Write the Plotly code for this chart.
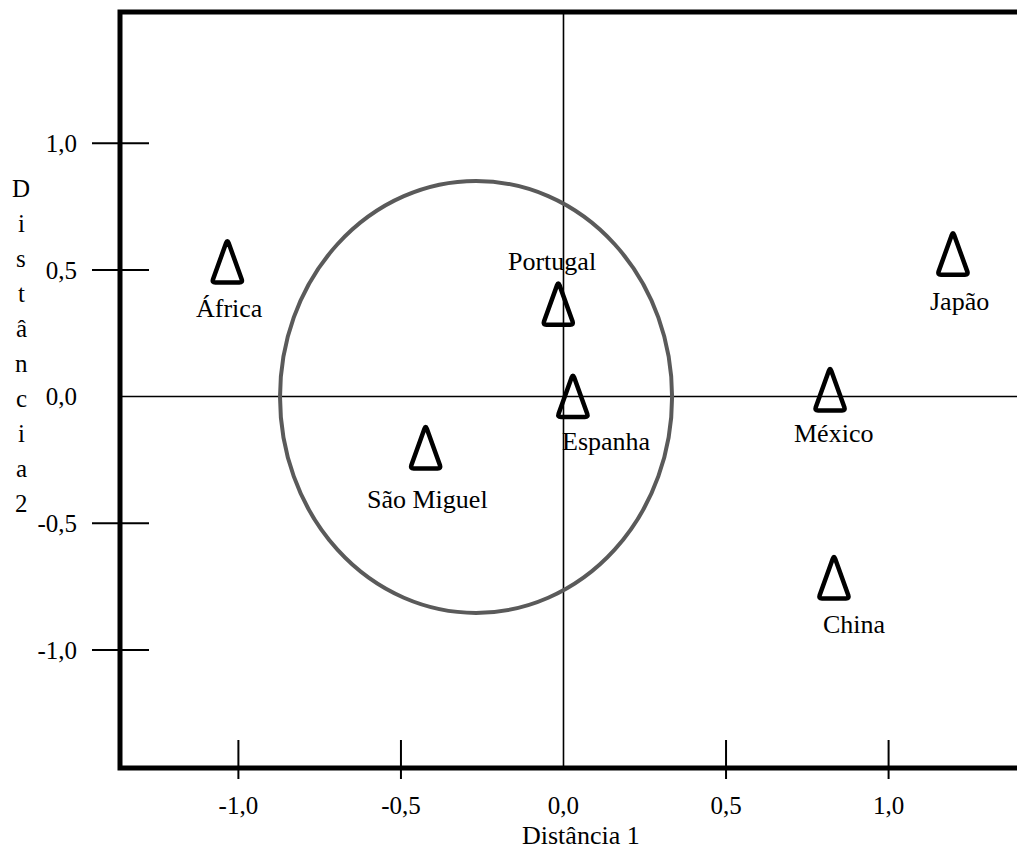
import plotly.graph_objects as go

# Perceptual map: positions of each origin on the two scaling dimensions
places = ["África", "Portugal", "Espanha", "São Miguel", "México", "Japão", "China"]
dist1 = [-1.034, -0.016, 0.029, -0.424, 0.820, 1.198, 0.832]
dist2 = [0.535, 0.368, 0.004, -0.199, 0.030, 0.566, -0.712]

tick_vals = [-1.0, -0.5, 0.0, 0.5, 1.0]
tick_text = ["-1,0", "-0,5", "0,0", "0,5", "1,0"]

# Ellipse drawn around the Iberian group (bounds on both dimensions)
group_d1 = [-0.872, 0.334]
group_d2 = [-0.854, 0.851]

x_title = "Distância 1"
y_title = "Distância 2"

# ---- layout / style constants ----
W, H = 1017, 849
ML, MR, MT, MB = 120, 0, 12, 81
PW, PH = W - ML - MR, H - MT - MB
X_RANGE = [-1.3642, 1.3950]
Y_RANGE = [-1.4662, 1.5180]
FONT = "Liberation Serif, Times New Roman, serif"

# label placement around each triangle, in pixels (dx right, dy up)
label_shift = {
    "África": (2, -47),
    "Portugal": (-6, 42),
    "Espanha": (34, -46),
    "São Miguel": (2, -53),
    "México": (3, -45),
    "Japão": (7, -48),
    "China": (21, -48),
}


def px_to_paper_x(px):
    return (px - ML) / PW


def px_to_paper_y(py):
    return (MT + PH - py) / PH


def rounded_triangle(hw, hh, r):
    """Tall open triangle with softened corners, as a pixel-offset path."""
    pts = [(0.0, hh), (hw, -hh), (-hw, -hh)]
    n = len(pts)
    segs = []
    for i in range(n):
        vx, vy = pts[i]
        px_, py_ = pts[i - 1]
        nx, ny = pts[(i + 1) % n]

        def toward(ax, ay):
            dx, dy = ax - vx, ay - vy
            d = (dx * dx + dy * dy) ** 0.5
            return vx + r * dx / d, vy + r * dy / d

        segs.append((toward(px_, py_), (vx, vy), toward(nx, ny)))
    path = "M {:.2f},{:.2f} ".format(*segs[0][0])
    for k, (a, v, b) in enumerate(segs):
        if k > 0:
            path += "L {:.2f},{:.2f} ".format(*a)
        path += "Q {:.2f},{:.2f} {:.2f},{:.2f} ".format(v[0], v[1], b[0], b[1])
    path += "Z"
    return path


TRI_PATH = rounded_triangle(15.5, 21.5, 3.5)

fig = go.Figure()

# invisible anchor trace carrying the points (hover only)
fig.add_trace(go.Scatter(
    x=dist1, y=dist2, mode="markers", text=places,
    marker=dict(size=30, opacity=0), hoverinfo="text", showlegend=False,
))

shapes = []

# frame: left, top and bottom edges
shapes.append(dict(type="path", xref="paper", yref="paper",
                   path="M 1.02,1 L 0,1 L 0,0 L 1.02,0",
                   line=dict(color="black", width=5), layer="above"))

# reference cross through the origin
shapes.append(dict(type="line", xref="x", yref="paper", x0=0, x1=0, y0=0, y1=1,
                   line=dict(color="black", width=1.6)))
shapes.append(dict(type="line", xref="paper", yref="y", x0=0, x1=1, y0=0, y1=0,
                   line=dict(color="black", width=1.6)))

# tick marks crossing the frame (origin is marked by the cross itself)
for v in tick_vals:
    if v == 0:
        continue
    shapes.append(dict(type="line", xref="x", x0=v, x1=v,
                       yref="paper", ysizemode="pixel", yanchor=0, y0=-11, y1=28,
                       line=dict(color="black", width=2)))
    shapes.append(dict(type="line", yref="y", y0=v, y1=v,
                       xref="paper", xsizemode="pixel", xanchor=0, x0=-28, x1=29,
                       line=dict(color="black", width=2)))

# group ellipse
shapes.append(dict(type="circle", xref="x", yref="y",
                   x0=group_d1[0], x1=group_d1[1], y0=group_d2[0], y1=group_d2[1],
                   line=dict(color="#5a5a5a", width=4)))

# triangle markers
for x, y in zip(dist1, dist2):
    shapes.append(dict(type="path", xref="x", yref="y",
                       xsizemode="pixel", ysizemode="pixel", xanchor=x, yanchor=y,
                       path=TRI_PATH, fillcolor="rgba(0,0,0,0)",
                       line=dict(color="black", width=4.5), layer="above"))

annotations = []
for name, x, y in zip(places, dist1, dist2):
    dx, dy = label_shift[name]
    annotations.append(dict(x=x, y=y, xref="x", yref="y", text=name, showarrow=False,
                            xshift=dx, yshift=dy, xanchor="center", yanchor="middle",
                            font=dict(family=FONT, size=26, color="black")))

# horizontal axis title
annotations.append(dict(x=px_to_paper_x(581), y=px_to_paper_y(835), xref="paper", yref="paper",
                        text=x_title, showarrow=False, xanchor="center", yanchor="middle",
                        font=dict(family=FONT, size=26, color="black")))

# vertical axis title, one letter per row
letters = [c for c in y_title if c != " "]
for i, c in enumerate(letters):
    annotations.append(dict(x=px_to_paper_x(21), y=px_to_paper_y(188 + 35.1 * i),
                            xref="paper", yref="paper", text=c, showarrow=False,
                            xanchor="center", yanchor="middle",
                            font=dict(family=FONT, size=25, color="black")))

fig.update_layout(
    width=W, height=H,
    margin=dict(l=ML, r=MR, t=MT, b=MB, pad=0),
    plot_bgcolor="white", paper_bgcolor="white",
    showlegend=False,
    shapes=shapes,
    annotations=annotations,
    xaxis=dict(range=X_RANGE, showgrid=False, zeroline=False, showline=False,
               ticks="", tickvals=tick_vals, ticktext=tick_text,
               ticklabelstandoff=20,
               tickfont=dict(family=FONT, size=25, color="black"), fixedrange=True),
    yaxis=dict(range=Y_RANGE, showgrid=False, zeroline=False, showline=False,
               ticks="", tickvals=tick_vals, ticktext=tick_text,
               ticklabelstandoff=42,
               tickfont=dict(family=FONT, size=25, color="black"), fixedrange=True),
)

fig.write_html("out.html")
